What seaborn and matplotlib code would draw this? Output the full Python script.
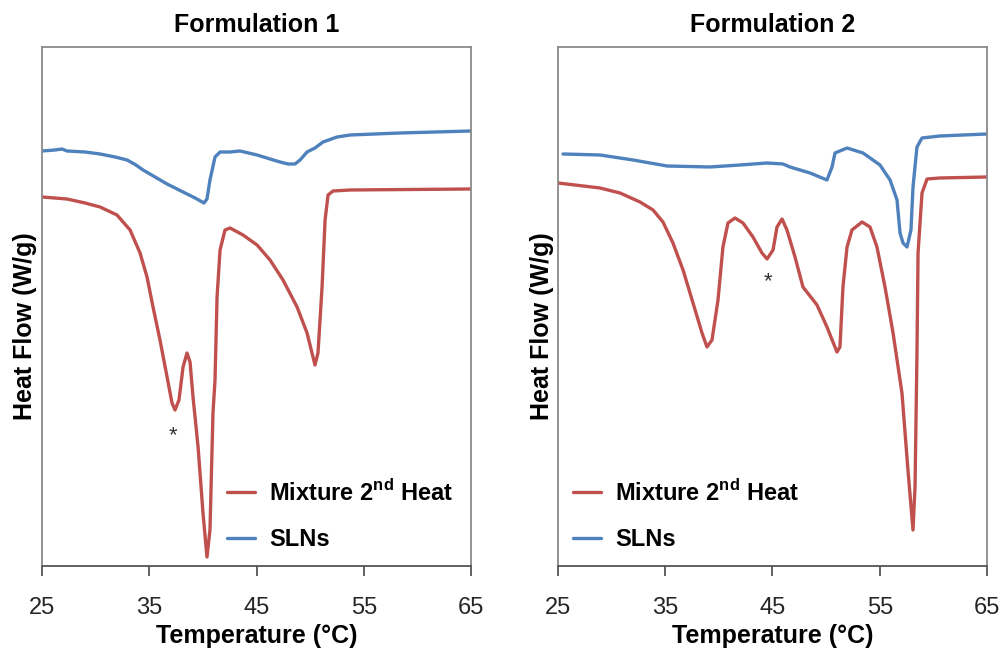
import matplotlib
matplotlib.use("Agg")
import matplotlib.pyplot as plt
import seaborn as sns
import pandas as pd

# ---------------- data (temperature in °C, heat flow in arbitrary units) ----------------
f1_sln_T = [25.00, 26.21, 26.86, 27.33, 29.01, 30.41, 31.81, 32.93, 33.76, 34.42, 35.54, 36.66,
            38.15, 39.27, 40.10, 40.38, 40.66, 41.13, 41.60, 42.53, 43.46, 45.05, 46.26, 47.19,
            47.94, 48.59, 49.06, 49.71, 50.45, 51.20, 52.51, 53.72, 58.38, 65.00]
f1_sln_hf = [415, 416, 417, 415, 414, 412, 409, 406, 401, 396, 389, 382,
             374, 368, 363, 367, 386, 409, 414, 414, 415, 411, 407, 404,
             402, 402, 406, 414, 418, 424, 429, 431, 433, 435]

f1_mix_T = [25.00, 27.33, 29.01, 30.41, 31.99, 33.21, 34.14, 34.79, 35.35, 36.00, 36.66, 37.12,
            37.40, 37.77, 38.15, 38.52, 38.80, 39.08, 39.55, 40.01, 40.38, 40.66, 40.94, 41.13,
            41.32, 41.60, 42.06, 42.53, 43.74, 45.05, 46.26, 47.47, 48.78, 49.71, 50.45, 50.73,
            51.11, 51.39, 51.67, 52.13, 53.72, 65.00]
f1_mix_hf = [369, 367, 363, 359, 351, 336, 313, 289, 259, 226, 189, 163,
             156, 166, 199, 213, 204, 169, 119, 53, 9, 36, 153, 186,
             269, 316, 336, 338, 331, 321, 306, 286, 259, 233, 201, 213,
             279, 346, 371, 375, 376, 377]

f2_sln_T = [25.47, 28.92, 32.00, 35.16, 39.17, 41.97, 44.49, 45.98, 46.63, 48.50, 50.08, 50.55,
            50.83, 51.95, 53.44, 55.02, 55.96, 56.61, 56.89, 57.17, 57.54, 57.91, 58.10, 58.47,
            58.94, 60.62, 65.00]
f2_sln_hf = [412, 411, 406, 400, 399, 401, 403, 402, 399, 393, 386, 399,
             413, 418, 413, 401, 386, 366, 333, 323, 319, 336, 379, 419,
             428, 430, 432]

f2_mix_T = [25.00, 28.92, 30.78, 32.65, 33.86, 34.79, 35.72, 36.66, 37.59, 38.43, 38.89, 39.36,
            39.92, 40.38, 40.85, 41.50, 42.25, 43.18, 44.02, 44.49, 45.05, 45.42, 45.89, 46.35,
            47.10, 47.84, 49.15, 50.08, 51.01, 51.29, 51.57, 51.95, 52.41, 53.35, 54.09, 54.74,
            55.49, 56.24, 57.07, 57.63, 58.10, 58.29, 58.47, 58.57, 58.94, 59.41, 60.62, 65.00]
f2_mix_hf = [383, 378, 373, 364, 356, 344, 323, 296, 263, 233, 219, 226,
             266, 319, 343, 348, 343, 329, 313, 307, 316, 339, 347, 336,
             309, 279, 261, 239, 214, 219, 279, 319, 336, 344, 339, 319,
             279, 233, 173, 96, 36, 79, 213, 313, 373, 387, 388, 389]

titles = ["Formulation 1", "Formulation 2"]
series_names = ["Mixture 2$^{\\mathbf{nd}}$ Heat", "SLNs"]
x_ticks = [25, 35, 45, 55, 65]
asterisk_pos = [(37.2, 130), (44.6, 284)]

RED = "#C0504D"
BLUE = "#4F81BD"

sns.set_theme(style="white")
plt.rcParams["font.family"] = ["Liberation Sans", "DejaVu Sans"]
plt.rcParams["mathtext.fontset"] = "custom"
plt.rcParams["mathtext.bf"] = "Liberation Sans:bold"
plt.rcParams["mathtext.rm"] = "Liberation Sans"
plt.rcParams["text.color"] = "black"
plt.rcParams["axes.labelcolor"] = "black"
plt.rcParams["axes.titlecolor"] = "black"

def make_df(mT, mhf, sT, shf):
    d1 = pd.DataFrame({"T": mT, "hf": mhf, "series": series_names[0]})
    d2 = pd.DataFrame({"T": sT, "hf": shf, "series": series_names[1]})
    return pd.concat([d1, d2], ignore_index=True)

dfs = [make_df(f1_mix_T, f1_mix_hf, f1_sln_T, f1_sln_hf),
       make_df(f2_mix_T, f2_mix_hf, f2_sln_T, f2_sln_hf)]

fig = plt.figure(figsize=(10.05, 6.49), dpi=100)
axes = [fig.add_axes([0.0418, 0.1279, 0.4269, 0.7997]),
        fig.add_axes([0.5552, 0.1279, 0.4269, 0.7997])]

leg_anchor = [(0.431, 0.029), (0.035, 0.029)]
ylabel_x = [-0.0117, -0.0093]

for i, ax in enumerate(axes):
    sns.lineplot(data=dfs[i], x="T", y="hf", hue="series", sort=False,
                 palette={series_names[0]: RED, series_names[1]: BLUE},
                 linewidth=2.4, ax=ax, estimator=None)
    for ln in ax.get_lines():
        ln.set_solid_joinstyle("round")
        ln.set_solid_capstyle("round")
    ax.set_xlim(25, 65)
    ax.set_ylim(0, 519)
    ax.set_xticks(x_ticks)
    ax.set_xticklabels([str(t) for t in x_ticks])
    ax.set_yticks([])
    ax.tick_params(axis="x", direction="out", length=7, width=1.3, color="#555555",
                   labelsize=17, labelcolor="#262626", pad=15, bottom=True)
    for s in ["top", "right", "left"]:
        ax.spines[s].set_color("#8a8a8a")
        ax.spines[s].set_linewidth(1.3)
    ax.spines["bottom"].set_color("#555555")
    ax.spines["bottom"].set_linewidth(1.3)
    ax.set_title(titles[i], fontsize=18, fontweight="bold", pad=11, color="black")
    ax.set_xlabel("Temperature (°C)", fontsize=18, fontweight="bold", labelpad=4, color="black")
    ax.set_ylabel("Heat Flow (W/g)", fontsize=18, fontweight="bold", color="black")
    ax.yaxis.set_label_coords(ylabel_x[i], 0.462)
    ax.text(asterisk_pos[i][0], asterisk_pos[i][1], "*", fontsize=16, color="#333333",
            ha="center", va="center")
    leg = ax.legend(loc="lower left", bbox_to_anchor=leg_anchor[i], frameon=False,
                    fontsize=17, handlelength=1.2, handletextpad=0.6, labelspacing=0.95,
                    borderpad=0, borderaxespad=0)
    for t in leg.get_texts():
        t.set_fontweight("bold")
        t.set_color("black")
    for l in leg.get_lines():
        l.set_linewidth(2.4)

fig.savefig("out.png", dpi=100)
